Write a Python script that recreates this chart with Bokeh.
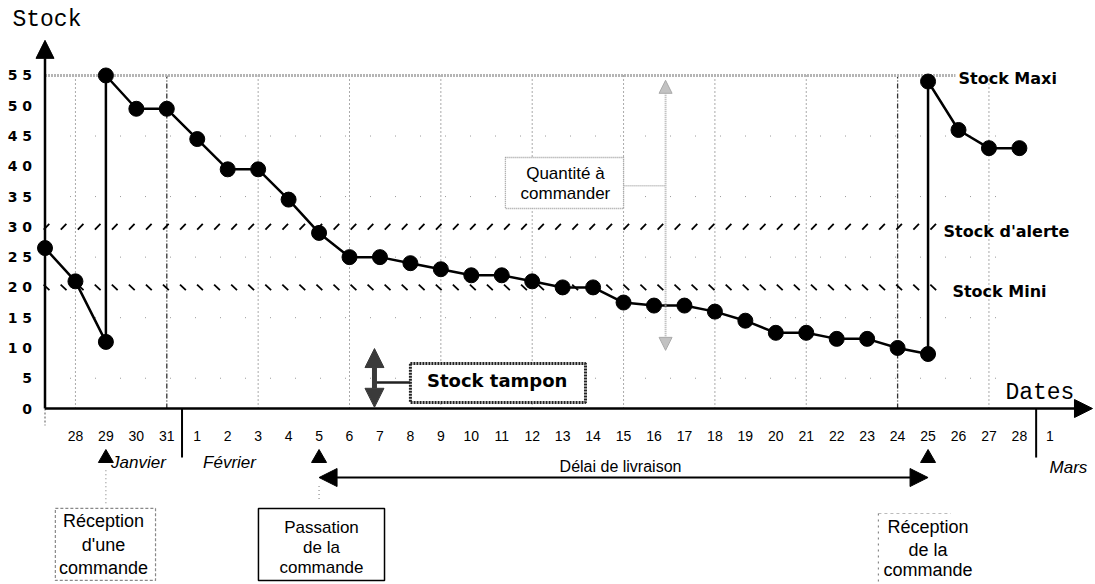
import numpy as np
from bokeh.plotting import figure
from bokeh.models import Range1d, FixedTicker, Arrow, NormalHead, Label, BoxAnnotation
from bokeh.embed import file_html
from bokeh.resources import INLINE

# ---------------- data ----------------
day_names = ["27/01", "28/01", "29/01", "30/01", "31/01",
             "01/02", "02/02", "03/02", "04/02", "05/02", "06/02", "07/02",
             "08/02", "09/02", "10/02", "11/02", "12/02", "13/02", "14/02",
             "15/02", "16/02", "17/02", "18/02", "19/02", "20/02", "21/02",
             "22/02", "23/02", "24/02", "25/02", "26/02", "27/02", "28/02",
             "01/03"]
tick_labels = ["", "28", "29", "30", "31",
               "1", "2", "3", "4", "5", "6", "7", "8", "9", "10", "11", "12",
               "13", "14", "15", "16", "17", "18", "19", "20", "21", "22",
               "23", "24", "25", "26", "27", "28", "1"]

stock_dates = ["27/01", "28/01", "29/01", "29/01", "30/01", "31/01",
               "01/02", "02/02", "03/02", "04/02", "05/02", "06/02", "07/02",
               "08/02", "09/02", "10/02", "11/02", "12/02", "13/02", "14/02",
               "15/02", "16/02", "17/02", "18/02", "19/02", "20/02", "21/02",
               "22/02", "23/02", "24/02", "25/02", "25/02", "26/02", "27/02",
               "28/02"]
stock_values = [26.5, 21, 11, 55, 49.5, 49.5,
                44.5, 39.5, 39.5, 34.5, 29, 25, 25,
                24, 23, 22, 22, 21, 20, 20,
                17.5, 17, 17, 16, 14.5, 12.5, 12.5,
                11.5, 11.5, 10, 9, 54, 46, 43,
                43]

stock_maxi = 55
stock_alerte = 30
stock_mini = 20

y_ticks = [0, 5, 10, 15, 20, 25, 30, 35, 40, 45, 50, 55]
y_tick_labels = ["0", "5", "1 0", "1 5", "2 0", "2 5", "3 0", "3 5",
                 "4 0", "4 5", "5 0", "5 5"]

months = ["Janvier", "Février", "Mars"]
event_dates = ["29/01", "05/02", "25/02"]   # réception, passation, réception
box_texts = [["Réception", "d'une", "commande"],
             ["Passation", "de la", "commande"],
             ["Réception", "de la", "commande"]]


def di(d):
    return day_names.index(d)


# ---------------- figure ----------------
W, H = 1095, 584
X0, XS = 44.5, 30.45      # px of day 0, px per day
Y0, YS = 408.0, 6.055     # px of stock 0, px per unit
x_start = -X0 / XS
x_end = (W - X0) / XS
y_end = Y0 / YS
y_start = (Y0 - H) / YS

p = figure(width=W, height=H, x_range=Range1d(x_start, x_end),
           y_range=Range1d(y_start, y_end), output_backend="svg",
           toolbar_location=None, tools="", min_border=0)
p.outline_line_color = None
p.grid.visible = False

xa = p.xaxis[0]
xa.fixed_location = 0
xa.ticker = FixedTicker(ticks=list(range(len(day_names))), minor_ticks=[])
xa.major_label_overrides = {i: t for i, t in enumerate(tick_labels)}
xa.axis_line_color = None
xa.major_tick_line_color = None
xa.minor_tick_line_color = None
xa.major_label_standoff = 16
xa.major_label_text_font = "Liberation Sans"
xa.major_label_text_font_size = "14px"
xa.major_label_text_color = "black"

ya = p.yaxis[0]
ya.fixed_location = 0
ya.ticker = FixedTicker(ticks=y_ticks, minor_ticks=[])
ya.major_label_overrides = dict(zip(y_ticks, y_tick_labels))
ya.axis_line_color = None
ya.major_tick_line_color = None
ya.minor_tick_line_color = None
ya.major_label_standoff = 7
ya.major_label_text_font = "DejaVu Sans"
ya.major_label_text_font_style = "bold"
ya.major_label_text_font_size = "14px"
ya.major_label_text_color = "black"

last_day = di("28/02")

# vertical dotted grid every three days
grid_days = list(range(1, last_day, 3))
for g in grid_days:
    heavy = g in (4, 28)
    p.segment(x0=[g], y0=[0], x1=[g], y1=[stock_maxi],
              line_color="#333" if heavy else "#555",
              line_width=1.3 if heavy else 1,
              line_dash="5 2 1 2" if heavy else "1 3")

# faint horizontal dots
for hy in [5, 15, 25, 35, 45]:
    p.segment(x0=[0], y0=[hy], x1=[31.5], y1=[hy], line_color="#999",
              line_width=1, line_dash="1 24")

# small tick under origin
p.segment(x0=[0], y0=[0], x1=[0], y1=[-2.8], line_color="#555",
          line_width=1, line_dash="2 2")

# stock maxi (grey dotted)
p.segment(x0=[0], y0=[stock_maxi], x1=[29.9], y1=[stock_maxi],
          line_color="#b5b5b5", line_width=3, line_dash="2 1")

# stock d'alerte and stock mini (hatched)
xs_a = np.arange(0.05, 29.3, 0.56)
p.scatter(xs_a, np.full(len(xs_a), stock_alerte), marker="dash", size=8,
          angle=0.8, line_color="black", line_width=1.8)
xs_m = np.arange(0.05, 29.45, 0.56)
p.scatter(xs_m, np.full(len(xs_m), stock_mini), marker="dash", size=8,
          angle=-0.75, line_color="black", line_width=1.8)

# stock curve
sx = [di(d) for d in stock_dates]
p.line(sx, stock_values, line_color="black", line_width=2.5)
p.scatter(sx, stock_values, size=15, color="black")

# month separators
for ms in [4.5, 32.55]:
    p.segment(x0=[ms], y0=[0], x1=[ms], y1=[-8.1], line_color="black",
              line_width=2)

# event triangles
ev = [di(d) for d in event_dates]
p.scatter(ev, [-8.2] * len(ev), marker="triangle", size=15, color="black")

# small dotted links under events
p.segment(x0=[ev[0]], y0=[-10.2], x1=[ev[0]], y1=[-15.7], line_color="#777",
          line_width=1, line_dash="1 3")
p.segment(x0=[ev[1]], y0=[-12.8], x1=[ev[1]], y1=[-15.2], line_color="#777",
          line_width=1, line_dash="1 3")

# axes arrows
p.add_layout(Arrow(end=NormalHead(size=18, fill_color="black",
                                  line_color="black", line_width=1),
                   x_start=0, y_start=0, x_end=34.4, y_end=0,
                   line_color="black", line_width=2.5))
p.add_layout(Arrow(end=NormalHead(size=18, fill_color="black",
                                  line_color="black", line_width=1),
                   x_start=0, y_start=0, x_end=0, y_end=60.8,
                   line_color="black", line_width=2.5))

# délai de livraison double arrow
p.add_layout(Arrow(start=NormalHead(size=18, fill_color="black",
                                    line_color="black", line_width=1),
                   end=NormalHead(size=18, fill_color="black",
                                  line_color="black", line_width=1),
                   x_start=ev[1], y_start=-11.4, x_end=ev[2], y_end=-11.4,
                   line_color="black", line_width=2))

# quantité à commander arrow (grey)
p.add_layout(Arrow(start=NormalHead(size=13, fill_color="#c2c2c2",
                                    line_color="#aaaaaa", line_width=1),
                   end=NormalHead(size=13, fill_color="#c2c2c2",
                                  line_color="#aaaaaa", line_width=1),
                   x_start=20.38, y_start=9.6, x_end=20.38, y_end=54.2,
                   line_color="#b0b0b0", line_width=2, line_dash="1 1"))
p.segment(x0=[19.0], y0=[36.8], x1=[20.38], y1=[36.8], line_color="#aaaaaa",
          line_width=1.5, line_dash="1 1")

# stock tampon arrow (dark)
p.add_layout(Arrow(start=NormalHead(size=19, fill_color="#3a3a3a",
                                    line_color="#3a3a3a", line_width=1),
                   end=NormalHead(size=19, fill_color="#3a3a3a",
                                  line_color="#3a3a3a", line_width=1),
                   x_start=10.82, y_start=0.2, x_end=10.82, y_end=9.9,
                   line_color="#3a3a3a", line_width=5))
p.segment(x0=[10.82], y0=[4.3], x1=[12.0], y1=[4.3], line_color="#222",
          line_width=2.5)

# boxes
p.add_layout(BoxAnnotation(left=15.12, right=19.0, top=41.45, bottom=33.03,
                           fill_color="white", fill_alpha=1,
                           line_color="#999", line_alpha=1, line_width=1.3,
                           line_dash="1 1"))
p.add_layout(BoxAnnotation(left=12.0, right=17.75, top=7.43, bottom=0.99,
                           fill_color="white", fill_alpha=1,
                           line_color="#222", line_alpha=1, line_width=3,
                           line_dash="2 1"))
p.add_layout(BoxAnnotation(left=0.34, right=3.63, top=-16.5, bottom=-28.4,
                           fill_color="white", fill_alpha=1,
                           line_color="#888", line_alpha=1, line_width=1.2,
                           line_dash="3 2"))
p.add_layout(BoxAnnotation(left=7.01, right=11.15, top=-16.5, bottom=-28.4,
                           fill_color="white", fill_alpha=1,
                           line_color="black", line_alpha=1, line_width=1.5))
p.segment(x0=[27.37], y0=[-17.34], x1=[29.75], y1=[-17.34],
          line_color="#bbb", line_width=1.2, line_dash="3 3")
p.segment(x0=[27.37], y0=[-17.34], x1=[27.37], y1=[-28.6],
          line_color="#888", line_width=1.2, line_dash="2 4")


def lab(x, y, text, size, font="Liberation Sans", style="normal",
        align="center", color="black"):
    p.add_layout(Label(x=x, y=y, text=text, text_font=font,
                       text_font_size=f"{size}px", text_font_style=style,
                       text_align=align, text_baseline="middle",
                       text_color=color))


lab(-1.07, 64.1, "Stock", 23, font="Liberation Mono", align="left")
lab(31.54, 2.5, "Dates", 23, font="Liberation Mono", align="left")

lab(30.0, 54.5, "Stock Maxi", 16, font="DejaVu Sans", style="bold",
    align="left")
lab(29.51, 29.2, "Stock d'alerte", 16, font="DejaVu Sans", style="bold",
    align="left")
lab(29.8, 19.3, "Stock Mini", 16, font="DejaVu Sans", style="bold",
    align="left")
lab(14.85, 4.6, "Stock tampon", 18, font="DejaVu Sans", style="bold")

lab(17.09, 38.8, "Quantité à", 17)
lab(17.09, 35.5, "commander", 17)

lab(3.07, -8.92, months[0], 17, style="italic")
lab(6.06, -8.92, months[1], 17, style="italic")
lab(33.61, -9.74, months[2], 17, style="italic")

lab(18.9, -9.58, "Délai de livraison", 16)

for t, yy in zip(box_texts[0], [-18.5, -22.5, -26.4]):
    lab(1.92, yy, t, 18)
for t, yy in zip(box_texts[1], [-19.65, -22.95, -26.26]):
    lab(9.08, yy, t, 17)
for t, yy in zip(box_texts[2], [-19.65, -23.29, -26.75]):
    lab(29.0, yy, t, 18)

open("out.html", "w").write(file_html(p, INLINE))
